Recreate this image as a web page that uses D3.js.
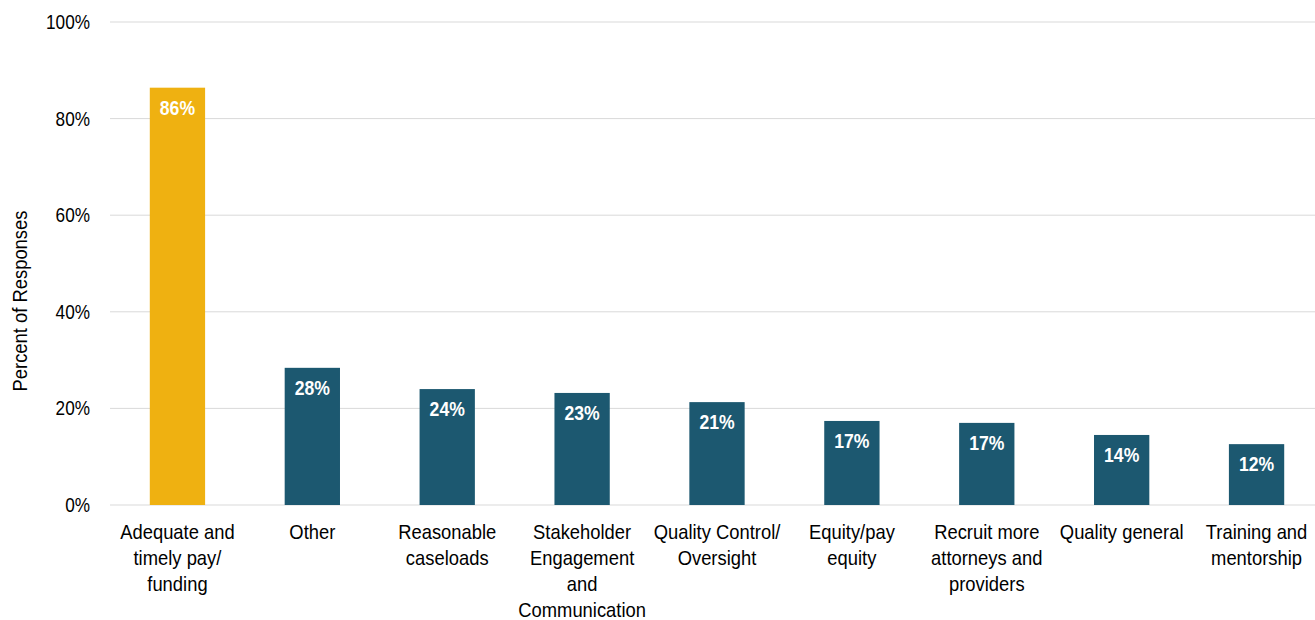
<!DOCTYPE html>
<html lang="en">
<head>
    <meta charset="UTF-8">
    <title>Percent of Responses</title>
    <script src="https://d3js.org/d3.v7.min.js"></script>
    <style>
        body { margin: 0; background: #fff; }
        text { font-family: "Liberation Sans Narrow", "Arial Narrow", "Liberation Sans", Arial, sans-serif; }
    </style>
</head>
<body>
<script>
    // data
    let categories = [
        ["Adequate and", "timely pay/", "funding"],
        ["Other"],
        ["Reasonable", "caseloads"],
        ["Stakeholder", "Engagement", "and", "Communication"],
        ["Quality Control/", "Oversight"],
        ["Equity/pay", "equity"],
        ["Recruit more", "attorneys and", "providers"],
        ["Quality general"],
        ["Training and", "mentorship"]
    ];
    let values = [86.4, 28.4, 24.0, 23.2, 21.3, 17.4, 17.0, 14.5, 12.6];
    let labels = ["86%", "28%", "24%", "23%", "21%", "17%", "17%", "14%", "12%"];
    let yTicks = [0, 20, 40, 60, 80, 100];

    let chartW = 1315, chartH = 620;
    let mLeft = 110, mRight = 1324, mTop = 22, mBottom = 505;

    let svg = d3.select("body").append("svg")
        .attr("width", chartW)
        .attr("height", chartH);

    let ids = categories.map(function (c, i) { return i; });
    let x = d3.scaleBand().domain(ids).range([mLeft, mRight]).paddingInner(0.59).paddingOuter(0.295);
    let y = d3.scaleLinear().domain([0, 100]).range([mBottom, mTop]);

    // gridlines
    svg.append("g").selectAll("line").data(yTicks).enter().append("line")
        .attr("x1", mLeft).attr("x2", chartW)
        .attr("y1", function (d) { return y(d); })
        .attr("y2", function (d) { return y(d); })
        .style("stroke", "#d9d9d9")
        .style("stroke-width", 1);

    // y axis labels (narrowed, the original uses a condensed face)
    let yAxis = svg.append("g")
        .attr("transform", `translate(${mLeft - 20},0)`)
        .call(d3.axisLeft(y).tickValues(yTicks).tickSize(0).tickFormat(function (d) { return d + "%"; }));
    yAxis.select(".domain").remove();
    yAxis.selectAll("text")
        .attr("x", 0)
        .attr("transform", "scale(0.86,1)")
        .style("font-family", "'Liberation Sans Narrow', 'Liberation Sans', sans-serif")
        .style("font-size", "20px")
        .style("fill", "#000");

    svg.append("text")
        .attr("transform", `translate(27,${301}) rotate(-90) scale(0.92,1)`)
        .attr("text-anchor", "middle")
        .style("font-size", "20px")
        .style("fill", "#000")
        .text("Percent of Responses");

    // bars
    svg.append("g").selectAll("rect").data(values).enter().append("rect")
        .attr("x", function (d, i) { return x(i); })
        .attr("y", function (d) { return y(d); })
        .attr("width", x.bandwidth())
        .attr("height", function (d) { return y(0) - y(d); })
        .style("fill", function (d, i) { return i === 0 ? "#efb111" : "#1c5870"; });

    // value labels
    svg.append("g").selectAll("text").data(values).enter().append("text")
        .attr("transform", function (d, i) {
            return `translate(${x(i) + x.bandwidth() / 2},${y(d) + 27}) scale(0.88,1)`;
        })
        .attr("text-anchor", "middle")
        .style("font-size", "20px")
        .style("font-weight", "bold")
        .style("fill", "#fff")
        .text(function (d, i) { return labels[i]; });

    // category labels
    let cat = svg.append("g").selectAll("text").data(categories).enter().append("text")
        .attr("transform", function (d, i) {
            return `translate(${x(i) + x.bandwidth() / 2},${mBottom + 34}) scale(0.92,1)`;
        })
        .attr("text-anchor", "middle")
        .style("font-size", "20px")
        .style("fill", "#000");
    cat.selectAll("tspan").data(function (d) { return d; }).enter().append("tspan")
        .attr("x", 0)
        .attr("dy", function (d, j) { return j === 0 ? 0 : 26; })
        .text(function (d) { return d; });
</script>
</body>
</html>
